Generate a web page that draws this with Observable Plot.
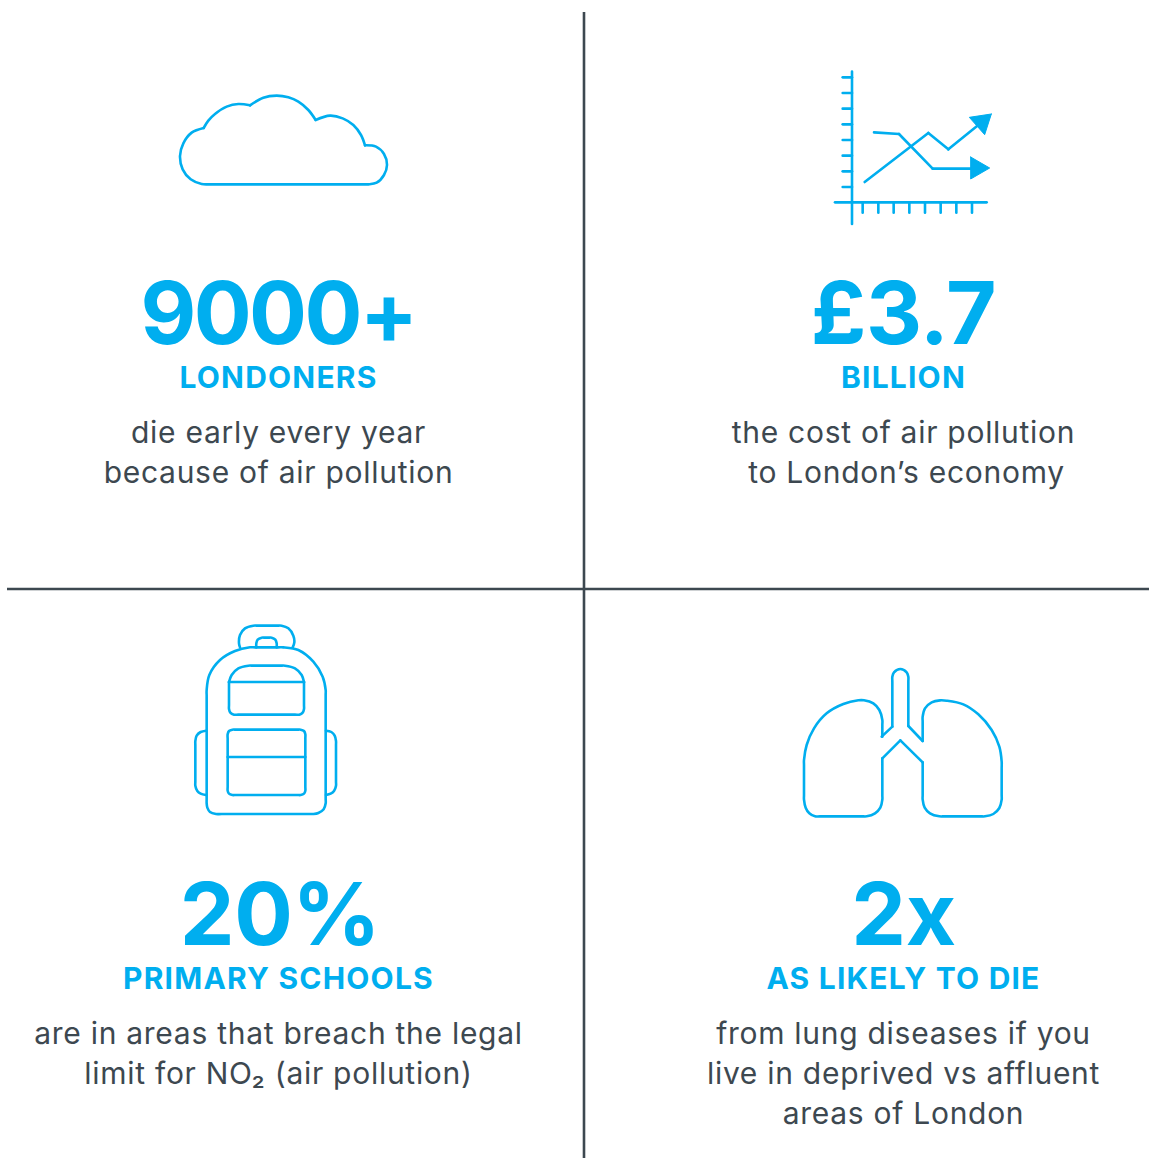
<!DOCTYPE html>
<html><head><meta charset="utf-8">
<script src="https://cdn.jsdelivr.net/npm/d3@7"></script>
<script src="https://cdn.jsdelivr.net/npm/@observablehq/plot@0.6"></script>
<style>
html,body{margin:0;padding:0;background:#fff;overflow:hidden}
svg{display:block}
g[font-size="86"]{letter-spacing:-2.6px}
g[font-size="87"]{letter-spacing:-0.5px}
g[font-size="30"][font-weight="700"]{letter-spacing:1.2px}
g[font-size="30"][font-weight="400"]{letter-spacing:0.72px}
</style></head><body>
<script>
const BLUE="#00aeef", INK="#3d4850";
const bigTight=[["9000+",277.5,343]];
const bigLabels=[["£3.7",903,343],["20%",279.5,944],["2x",903,944]];
const headLabels=[["LONDONERS",278,387],["BILLION",903,387],["PRIMARY SCHOOLS",278,988],["AS LIKELY TO DIE",903,988]];
const bodyLines=[
["die early every year",278,442],["because of air pollution",278,482],
["the cost of air pollution",903,442],["to London’s economy",906,482],
["are in areas that breach the legal",278,1043],["limit for NO₂ (air pollution)",278,1083],
["from lung diseases if you",903,1043],["live in deprived vs affluent",903,1083],["areas of London",903,1123]];
const cloud=[
[[131,144],[95,158],[70,190],[60,228],[68,268],[92,298],[125,312],[148,313],[165,313],[610,313],[625,313],[650,308],[672,285],[681,255],[672,222],[648,200],[615,196]],
[[615,196],[603,165],[580,135],[548,115],[510,107],[467,120]],
[[467,120],[445,90],[415,65],[385,52],[350,47],[310,53],[270,76]],
[[270,76],[235,72],[200,80],[165,102],[145,122],[131,144]]];
const trendLines=[
[[96,35],[96,492]],[[45,427],[500,427]],
[[68,52],[96,52]],[[68,99],[96,99]],[[68,146],[96,146]],[[68,193],[96,193]],[[68,240],[96,240]],[[68,287],[96,287]],[[68,334],[96,334]],[[68,381],[96,381]],
[[128,427],[128,458]],[[175,427],[175,458]],[[221,427],[221,458]],[[268,427],[268,458]],[[315,427],[315,458]],[[362,427],[362,458]],[[409,427],[409,458]],[[456,427],[456,458]],
[[134,366],[325,219]],[[325,219],[385,268]],[[385,268],[475,195]],
[[162,217],[237,222]],[[237,222],[338,326]],[[338,326],[460,326]]];
const trendArrows=[[[514,162],[448,172],[494,224],[514,162]],[[452,291],[509,324],[452,357],[452,291]]];
const pack=[
[[80,240],[80,225],[88,180],[120,135],[165,108],[210,97],[225,97],[295,97],[310,97],[355,105],[400,140],[428,185],[437,225],[437,240],[437,550],[437,565],[431,583],[415,594],[400,597],[385,597],[125,597],[108,597],[90,591],[82,578],[80,565],[80,550],[80,240]],
[[180,97],[177,85],[180,60],[195,40],[220,32],[235,32],[290,32],[305,32],[325,40],[340,62],[343,82],[338,97]],
[[229,97],[229,85],[233,74],[245,68],[255,68],[265,68],[275,68],[286,74],[290,85],[290,97]],
[[147,201],[155,180],[175,160],[205,152],[220,152],[300,152],[315,152],[345,160],[365,180],[372,201]],
[[147,201],[372,201]],
[[147,201],[147,270],[147,282],[151,293],[162,299],[175,299],[345,299],[358,299],[368,293],[372,282],[372,270],[372,201]],
[[143,370],[143,358],[147,348],[157,344],[170,344],[350,344],[362,344],[372,348],[376,358],[376,370],[376,515],[376,527],[372,536],[362,540],[350,540],[170,540],[157,540],[147,536],[143,527],[143,515],[143,370]],
[[143,426],[376,426]],
[[78,347],[62,351],[50,362],[46,378],[46,390],[46,500],[46,512],[52,528],[62,536],[78,540]],
[[438,347],[454,351],[464,362],[468,378],[468,390],[468,500],[468,512],[462,528],[452,536],[438,540]]];
const lungs=[
[[275,245],[307,215]],
[[307,215],[307,80],[307,65],[312,52],[331,42],[350,52],[355,65],[355,80],[355,213]],
[[355,213],[398,258]],
[[398,258],[398,200],[398,185],[405,160],[425,142],[450,136],[470,137],[520,148],[565,178],[605,225],[628,275],[635,320],[635,340],[635,420],[635,434],[628,459],[610,477],[585,484],[570,484],[465,484],[448,484],[420,475],[404,458],[398,434],[398,420],[398,322]],
[[398,322],[331,256]],[[331,256],[277,310]],
[[277,310],[277,420],[277,434],[271,458],[255,475],[230,484],[215,484],[90,484],[75,484],[58,475],[47,458],[42,434],[42,420],[42,330],[42,315],[50,270],[72,220],[110,175],[160,147],[205,136],[222,136],[250,145],[268,165],[277,195],[277,210],[277,245]]];
function strokes(list,ox,oy){return list.flatMap((s,i)=>s.map(([a,b])=>({x:ox-0.5+a/3,y:oy-0.5+b/3,z:`${ox}-${i}`})));}
const iconData=[...strokes(cloud,160,80),...strokes(trendLines,820,60),...strokes(pack,180,615),...strokes(lungs,790,655)];
const arrowData=strokes(trendArrows,820,60);
const rows=a=>a.map(([t,x,y])=>({t,x,y}));
const txt=(a,o)=>Plot.text(rows(a),{x:"x",y:"y",text:"t",lineAnchor:"bottom",textAnchor:"middle",...o});
const chart=Plot.plot({width:1149,height:1158,margin:0,
 x:{domain:[0,1149],range:[0,1149],axis:null},y:{domain:[0,1158],range:[0,1158],axis:null},
 style:{fontFamily:"Inter",background:"#fff"},
 marks:[
  Plot.ruleX([583.5],{y1:12,y2:1158,stroke:INK,strokeWidth:2.6}),
  Plot.ruleY([588.5],{x1:7,x2:1149,stroke:INK,strokeWidth:2.6}),
  Plot.line(iconData,{x:"x",y:"y",z:"z",curve:"catmull-rom",stroke:BLUE,strokeWidth:2.6,strokeLinejoin:"round"}),
  Plot.line(arrowData,{x:"x",y:"y",z:"z",curve:"linear",stroke:BLUE,strokeWidth:1,fill:BLUE}),
  txt(bigTight,{fill:BLUE,fontSize:86,fontWeight:700}),
  txt(bigLabels,{fill:BLUE,fontSize:87,fontWeight:700}),
  txt(headLabels,{fill:BLUE,fontSize:30,fontWeight:700}),
  txt(bodyLines,{fill:INK,fontSize:30,fontWeight:400})
 ]});
document.body.append(chart);
</script></body></html>
